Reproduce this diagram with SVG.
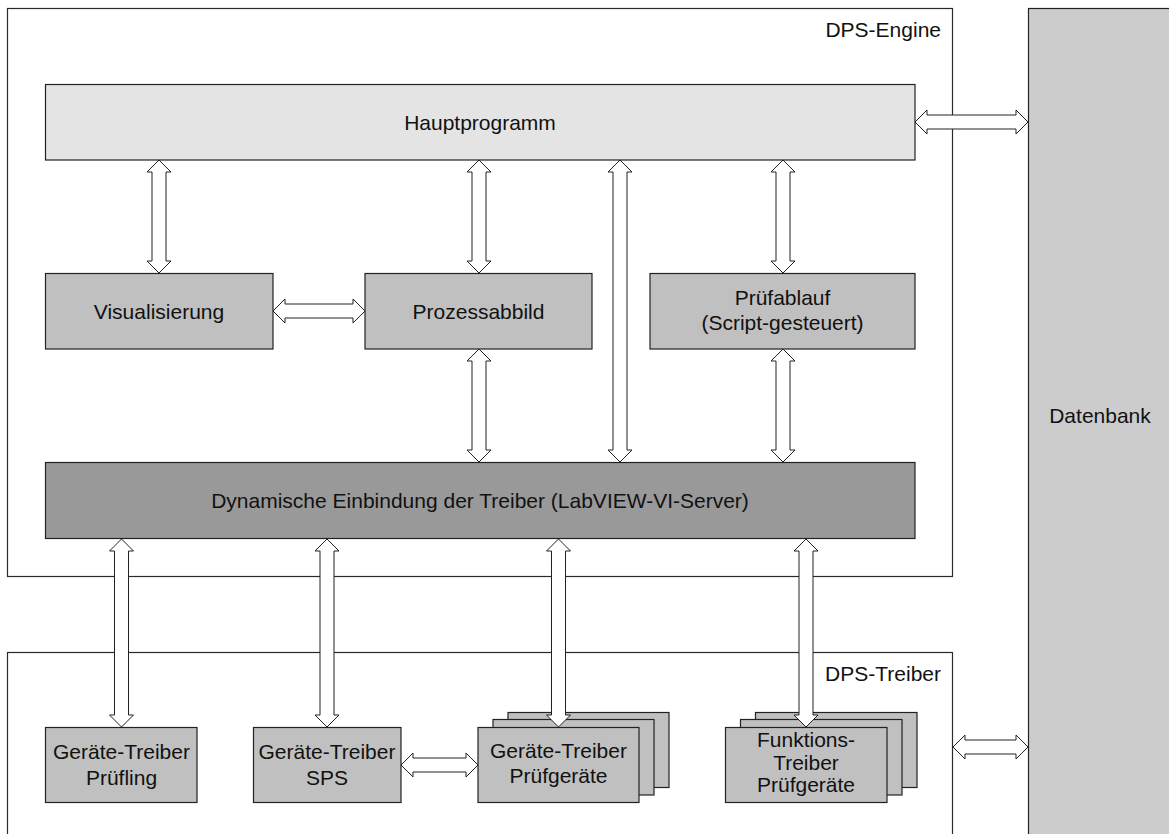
<svg xmlns="http://www.w3.org/2000/svg" width="1169" height="834" viewBox="0 0 1169 834">
  <style>
    .frame { fill: #ffffff; stroke: #2a2a2a; stroke-width: 1.2; }
    .box { stroke: #222222; stroke-width: 1.2; }
    .light { fill: #e4e4e4; }
    .mid { fill: #c0c0c0; }
    .dark { fill: #999999; }
    .db { fill: #cccccc; }
    .arrow { fill: #ffffff; stroke: #222222; stroke-width: 1; stroke-linejoin: miter; }
    text { font-family: "Liberation Sans", Arial, sans-serif; font-size: 21px; fill: #111111; }
    .c { text-anchor: middle; }
    .r { text-anchor: end; }
  </style>

  <g id="dps-engine">
    <rect class="frame" x="7.5" y="8.5" width="945" height="568"/>
    <text class="r" x="941" y="37">DPS-Engine</text>
  </g>

  <g id="dps-treiber">
    <rect class="frame" x="7.5" y="652.5" width="945" height="200"/>
    <text class="r" x="941" y="681">DPS-Treiber</text>
  </g>

  <g id="datenbank">
    <rect class="box db" x="1028.5" y="8.5" width="150" height="840"/>
    <text class="c" x="1100" y="423">Datenbank</text>
  </g>

  <g id="hauptprogramm">
    <rect class="box light" x="45.5" y="84.5" width="869.5" height="75.5"/>
    <text class="c" x="480" y="130">Hauptprogramm</text>
  </g>

  <g id="visualisierung">
    <rect class="box mid" x="45.5" y="273.5" width="227.5" height="75.5"/>
    <text class="c" x="159" y="319">Visualisierung</text>
  </g>

  <g id="prozessabbild">
    <rect class="box mid" x="365" y="273.5" width="227" height="75.5"/>
    <text class="c" x="478.5" y="319">Prozessabbild</text>
  </g>

  <g id="pruefablauf">
    <rect class="box mid" x="650" y="273.5" width="265" height="75.5"/>
    <text class="c" x="782.5" y="305">Prüfablauf</text>
    <text class="c" x="782.5" y="330">(Script-gesteuert)</text>
  </g>

  <g id="dynamische-einbindung">
    <rect class="box dark" x="45.5" y="462.5" width="869.5" height="76"/>
    <text class="c" x="480" y="508">Dynamische Einbindung der Treiber (LabVIEW-VI-Server)</text>
  </g>

  <g id="geraete-treiber-pruefling">
    <rect class="box mid" x="45.5" y="727.5" width="151.5" height="75"/>
    <text class="c" x="121.5" y="759">Geräte-Treiber</text>
    <text class="c" x="121.5" y="785">Prüfling</text>
  </g>

  <g id="geraete-treiber-sps">
    <rect class="box mid" x="253.5" y="727.5" width="147.5" height="75"/>
    <text class="c" x="327" y="759">Geräte-Treiber</text>
    <text class="c" x="327" y="785">SPS</text>
  </g>

  <g id="geraete-treiber-pruefgeraete">
    <rect class="box mid" x="508" y="712.5" width="161" height="75"/>
    <rect class="box mid" x="493" y="719.5" width="161" height="75.5"/>
    <rect class="box mid" x="478" y="727.5" width="161" height="75"/>
    <text class="c" x="558.5" y="758">Geräte-Treiber</text>
    <text class="c" x="558.5" y="783">Prüfgeräte</text>
  </g>

  <g id="funktions-treiber-pruefgeraete">
    <rect class="box mid" x="755.5" y="712.5" width="161.5" height="75"/>
    <rect class="box mid" x="740.5" y="719.5" width="161.5" height="75.5"/>
    <rect class="box mid" x="725.5" y="727.5" width="161.5" height="75"/>
    <text class="c" x="806" y="747">Funktions-</text>
    <text class="c" x="806" y="769.5">Treiber</text>
    <text class="c" x="806" y="792">Prüfgeräte</text>
  </g>

  <g id="connectors">
    <polygon class="arrow" points="159,160 171,172 166,172 166,261 171,261 159,273 147,261 152,261 152,172 147,172"/>
    <polygon class="arrow" points="479,160 491,172 486,172 486,261 491,261 479,273 467,261 472,261 472,172 467,172"/>
    <polygon class="arrow" points="620,160 632,172 627,172 627,450 632,450 620,462 608,450 613,450 613,172 608,172"/>
    <polygon class="arrow" points="783,160 795,172 790,172 790,261 795,261 783,273 771,261 776,261 776,172 771,172"/>
    <polygon class="arrow" points="479,349 491,361 486,361 486,450 491,450 479,462 467,450 472,450 472,361 467,361"/>
    <polygon class="arrow" points="783,349 795,361 790,361 790,450 795,450 783,462 771,450 776,450 776,361 771,361"/>
    <polygon class="arrow" points="121.5,539 133.5,551 128.5,551 128.5,715 133.5,715 121.5,727 109.5,715 114.5,715 114.5,551 109.5,551"/>
    <polygon class="arrow" points="327,539 339,551 334,551 334,715 339,715 327,727 315,715 320,715 320,551 315,551"/>
    <polygon class="arrow" points="558.5,539 570.5,551 565.5,551 565.5,715 570.5,715 558.5,727 546.5,715 551.5,715 551.5,551 546.5,551"/>
    <polygon class="arrow" points="806,539 818,551 813,551 813,715 818,715 806,727 794,715 799,715 799,551 794,551"/>
    <polygon class="arrow" points="915,122 927,110 927,115 1016,115 1016,110 1028,122 1016,134 1016,129 927,129 927,134"/>
    <polygon class="arrow" points="273,311 285,299 285,304 353,304 353,299 365,311 353,323 353,318 285,318 285,323"/>
    <polygon class="arrow" points="401,765 413,753 413,758 466,758 466,753 478,765 466,777 466,772 413,772 413,777"/>
    <polygon class="arrow" points="953,747 965,735 965,740 1016,740 1016,735 1028,747 1016,759 1016,754 965,754 965,759"/>
  </g>
</svg>
